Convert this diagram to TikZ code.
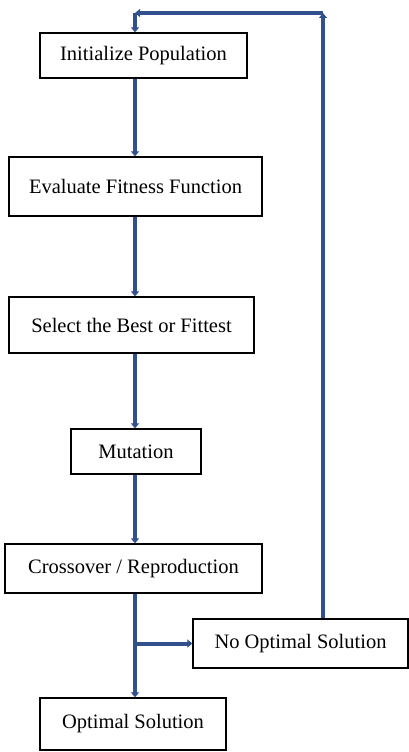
\documentclass[tikz,border=0pt]{standalone}
\usepackage{fontspec}
\setmainfont{Liberation Serif}
\usepackage{tikz}
\usetikzlibrary{arrows.meta,calc}
\definecolor{flowblue}{RGB}{50,80,140}
\tikzset{
  stepbox/.style={rectangle,draw=black,line width=1.3pt,align=center,inner sep=0pt,fill=white,font=\fontsize{20.5}{24}\selectfont},
  link/.style={draw=flowblue,line width=4pt,-{Triangle[length=5pt,width=8pt]}},
  plain/.style={draw=flowblue,line width=4pt}
}
\begin{document}
\begin{tikzpicture}[x=1pt,y=-1pt]
  \useasboundingbox (0,0) rectangle (409,752);
  \coordinate (spine) at (135,0);
  \coordinate (topL) at (135,13);
  \coordinate (topR) at (323,13);
  \node[stepbox,minimum width=207pt,minimum height=45pt] (init) at (143.5,55.5) {Initialize Population};
  \node[stepbox,minimum width=253pt,minimum height=59pt] (eval) at (135.5,186.5) {Evaluate Fitness Function};
  \node[stepbox,minimum width=245pt,minimum height=56pt] (sel) at (131.5,325) {Select the Best or Fittest};
  \node[stepbox,minimum width=130pt,minimum height=45pt] (mut) at (136,451.5) {Mutation};
  \node[stepbox,minimum width=257pt,minimum height=49pt] (cross) at (133.5,568.5) {Crossover / Reproduction};
  \node[stepbox,minimum width=215pt,minimum height=49pt] (noopt) at (300.5,643.5) {No Optimal Solution};
  \node[stepbox,minimum width=186pt,minimum height=52pt] (opt) at (133,724) {Optimal Solution};
  % main flow
  \draw[link] (init.south -| spine) -- (eval.north -| spine);
  \draw[link] (eval.south -| spine) -- (sel.north -| spine);
  \draw[link] (sel.south -| spine) -- (mut.north -| spine);
  \draw[link] (mut.south -| spine) -- (cross.north -| spine);
  \draw[link] (cross.south -| spine) -- (opt.north -| spine);
  \draw[link] (noopt.west -| spine) -- (noopt.west);
  % loop back
  \draw[link] (noopt.north -| topR) -- (topR);
  \draw[link] (topR) -- (topL);
  \draw[link] (topL) -- (init.north -| spine);
\end{tikzpicture}
\end{document}
